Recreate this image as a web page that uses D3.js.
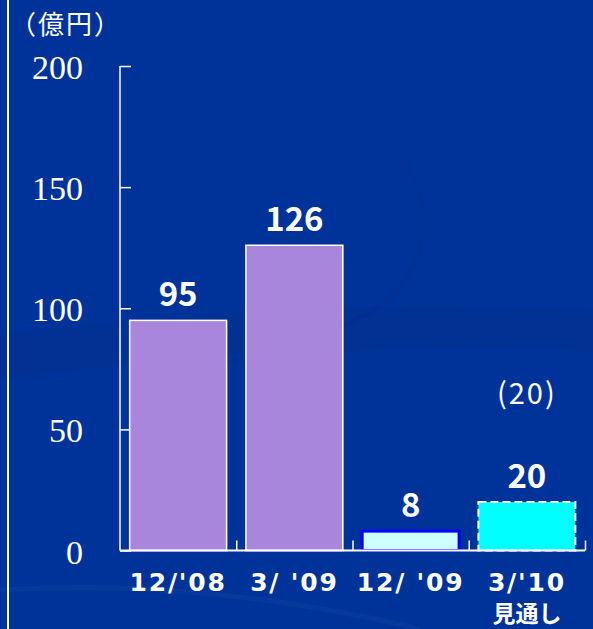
<!DOCTYPE html>
<html>
<head>
<meta charset="utf-8">
<script src="https://cdn.jsdelivr.net/npm/d3@7"></script>
<style>
  html, body { margin: 0; padding: 0; background: #003399; }
  svg { display: block; }
</style>
</head>
<body>
<div id="chart"></div>
<script>
// chart data
const categories = ["12/'08", "3/ '09", "12/ '09", "3/'10"];
const values = [95, 126, 8, 20];
const subLabels = ['', '', '', '見通し'];
const forecastNote = '(20)';
const yTicks = [0, 50, 100, 150, 200];
const unitLabel = '（億円）';

const width = 593;
const height = 629;

const barStyles = [
  { fill: '#a886dc', stroke: '#ffffff', strokeWidth: 1.5, dash: null },
  { fill: '#a886dc', stroke: '#ffffff', strokeWidth: 1.5, dash: null },
  { fill: '#ccffff', stroke: '#0000ff', strokeWidth: 3, dash: null },
  { fill: '#00ffff', stroke: '#ffffff', strokeWidth: 2, dash: '8,4' },
];

const svg = d3.select('#chart')
  .append('svg')
  .attr('width', width)
  .attr('height', height)
  .attr('viewBox', `0 0 ${width} ${height}`);

// background + faint swirls
svg.append('rect')
  .attr('width', width)
  .attr('height', height)
  .attr('fill', '#003399');

const deco = svg.append('g').attr('fill', 'none');
deco.append('path')
  .attr('d', 'M0,335 C150,315 350,300 593,310 L593,350 C400,345 200,350 0,380 Z')
  .attr('fill', '#002f8c')
  .attr('opacity', 0.45);
deco.append('path')
  .attr('d', 'M0,590 C150,580 300,600 420,629')
  .attr('stroke', '#1a48a8')
  .attr('stroke-width', 5)
  .attr('opacity', 0.25);
deco.append('path')
  .attr('d', 'M398,155 C430,190 440,260 380,305 C330,340 250,360 150,380')
  .attr('stroke', '#002f8e')
  .attr('stroke-width', 5)
  .attr('opacity', 0.35);

// left frame line
svg.append('line')
  .attr('x1', 8).attr('x2', 8)
  .attr('y1', 0).attr('y2', height)
  .attr('stroke', '#ffffff')
  .attr('stroke-width', 2);

const x = d3.scaleBand()
  .domain(categories)
  .range([120, 585])
  .paddingInner(0.166)
  .paddingOuter(0.083);

const y = d3.scaleLinear()
  .domain([0, 200])
  .range([550.5, 66]);

// y axis (ticks point inward)
const yAxis = svg.append('g')
  .attr('transform', 'translate(120,0)')
  .call(d3.axisRight(y).tickValues(yTicks).tickSize(11).tickFormat(''));
yAxis.select('.domain').remove();
yAxis.selectAll('.tick line').attr('stroke', '#ffffff').attr('stroke-width', 1.5);
yAxis.append('line')
  .attr('x1', 0).attr('x2', 0)
  .attr('y1', y(200)).attr('y2', y(0))
  .attr('stroke', '#ffffff').attr('stroke-width', 1.5);

svg.append('g')
  .selectAll('text')
  .data(yTicks)
  .join('text')
  .attr('x', 83)
  .attr('y', d => y(d) + 13)
  .attr('text-anchor', 'end')
  .attr('fill', '#ffffff')
  .attr('font-family', '"Liberation Serif", "DejaVu Serif", serif')
  .attr('font-size', 34)
  .text(d => d);

// bars
svg.append('g')
  .selectAll('rect')
  .data(values)
  .join('rect')
  .attr('x', (d, i) => x(categories[i]))
  .attr('y', d => y(d))
  .attr('width', x.bandwidth())
  .attr('height', d => y(0) - y(d))
  .attr('fill', (d, i) => barStyles[i].fill)
  .attr('stroke', (d, i) => barStyles[i].stroke)
  .attr('stroke-width', (d, i) => barStyles[i].strokeWidth)
  .attr('stroke-dasharray', (d, i) => barStyles[i].dash);

// x axis line + category ticks pointing up
const xAxis = svg.append('g');
xAxis.append('line')
  .attr('x1', 120).attr('x2', 585)
  .attr('y1', y(0)).attr('y2', y(0))
  .attr('stroke', '#ffffff').attr('stroke-width', 2);
xAxis.selectAll('.cat-tick')
  .data(categories)
  .join('line')
  .attr('class', 'cat-tick')
  .attr('x1', d => x(d) + x.step() * (1 - 0.083) + 0.5)
  .attr('x2', d => x(d) + x.step() * (1 - 0.083) + 0.5)
  .attr('y1', y(0) - 10)
  .attr('y2', y(0))
  .attr('stroke', '#ffffff').attr('stroke-width', 1.5);

// value labels
svg.append('g')
  .selectAll('text')
  .data(values)
  .join('text')
  .attr('x', (d, i) => x(categories[i]) + x.bandwidth() / 2)
  .attr('y', d => y(d) - 14)
  .attr('text-anchor', 'middle')
  .attr('fill', '#ffffff')
  .attr('font-family', '"Noto Sans CJK JP", "DejaVu Sans", sans-serif')
  .attr('font-weight', 'bold')
  .attr('font-size', 33)
  .text(d => d);

// forecast note
svg.append('text')
  .attr('x', x(categories[3]) + x.bandwidth() / 2)
  .attr('y', 404)
  .attr('text-anchor', 'middle')
  .attr('fill', '#ffffff')
  .attr('font-family', '"Noto Sans CJK JP", sans-serif')
  .attr('font-size', 29)
  .attr('letter-spacing', 2)
  .text(forecastNote);

// category labels
svg.append('g')
  .selectAll('text')
  .data(categories)
  .join('text')
  .attr('x', d => x(d) + x.bandwidth() / 2)
  .attr('y', 591)
  .attr('text-anchor', 'middle')
  .attr('fill', '#ffffff')
  .attr('font-family', '"DejaVu Sans", sans-serif')
  .attr('font-weight', 'bold')
  .attr('font-size', 25)
  .attr('letter-spacing', 1.8)
  .text(d => d);

svg.append('g')
  .selectAll('text')
  .data(subLabels)
  .join('text')
  .attr('x', (d, i) => x(categories[i]) + x.bandwidth() / 2)
  .attr('y', 622)
  .attr('text-anchor', 'middle')
  .attr('fill', '#ffffff')
  .attr('font-family', '"Noto Sans CJK JP", sans-serif')
  .attr('font-weight', 'bold')
  .attr('font-size', 23)
  .text(d => d);

// unit label
svg.append('text')
  .attr('x', 10)
  .attr('y', 34)
  .attr('fill', '#ffffff')
  .attr('font-family', '"Noto Sans CJK JP", sans-serif')
  .attr('font-size', 26)
  .attr('letter-spacing', 2)
  .text(unitLabel);
</script>
</body>
</html>
